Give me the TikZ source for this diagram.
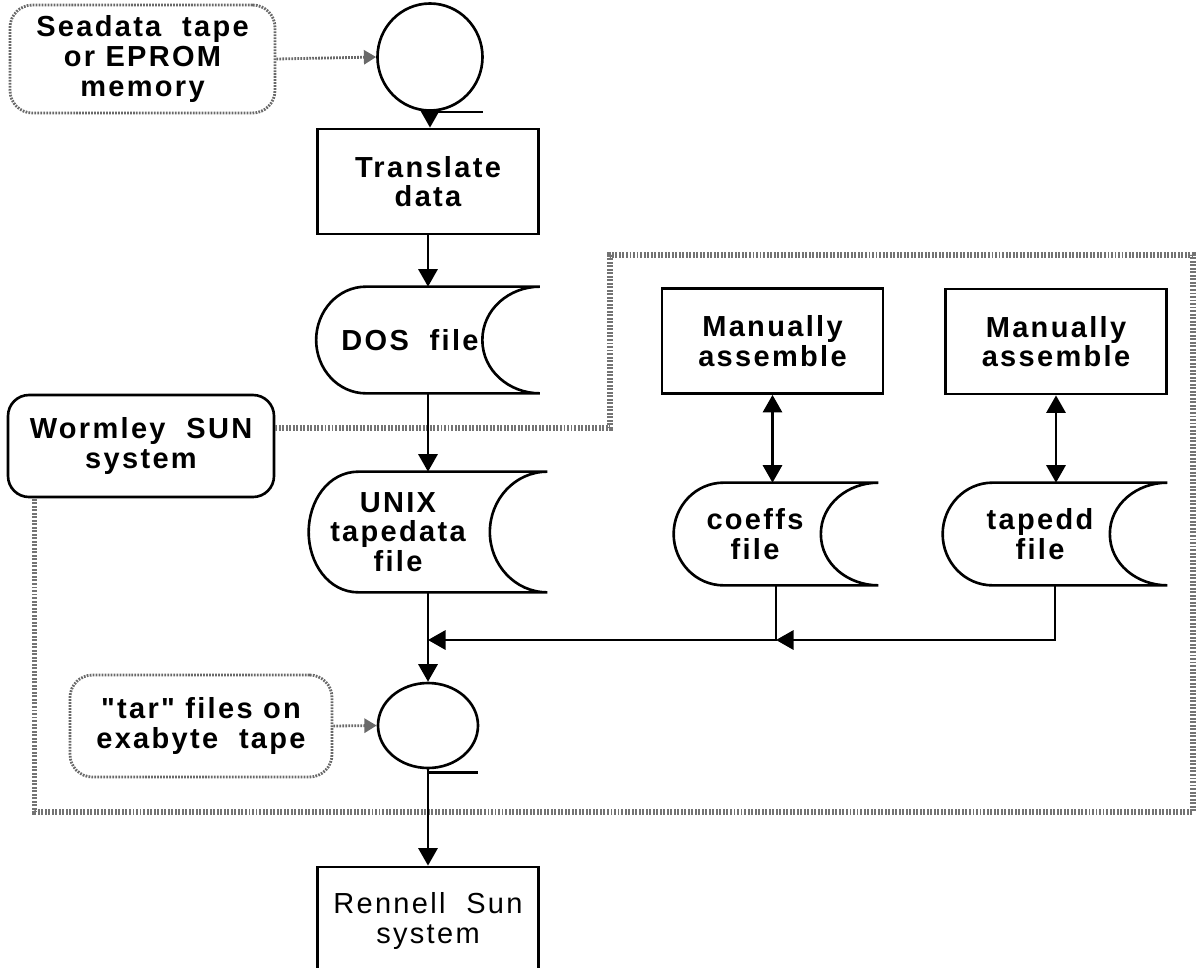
\documentclass[tikz,border=0pt]{standalone}
\usepackage{fontspec}
\setmainfont{Liberation Sans}[LetterSpace=8, Ligatures=TeXOff]
\usepackage{tikz}
\usetikzlibrary{arrows.meta,shapes.geometric,calc}

\definecolor{dotGray}{RGB}{105,105,105}

% outline of a stored-data file symbol round a named node
\newcommand{\drawstore}[1]{%
  \draw[line width=1.5pt] (#1.north east) -- ([xshift=1cm]#1.north west)
    to[out=180,in=90] (#1.west) to[out=-90,in=180] ([xshift=1cm]#1.south west)
    -- (#1.south east) to[out=180,in=-90] ([xshift=-1.15cm]#1.east)
    to[out=90,in=180] (#1.north east);}

\begin{document}
\begin{tikzpicture}[
    txt/.style={align=center, font=\fontsize{16.5}{16.8}\selectfont\bfseries},
    proc/.style={txt, rectangle, draw, line width=1.6pt, minimum width=4.42cm,
                 minimum height=2.1cm},
    store/.style={rectangle, inner sep=0pt, minimum height=2.04cm},
    tape/.style={ellipse, draw, line width=1.5pt, inner sep=0pt},
    ext/.style={txt, rectangle, rounded corners=0.45cm, draw=dotGray,
                line width=1.6pt, dash pattern=on 1pt off 0.7pt},
    sys/.style={txt, rectangle, rounded corners=0.42cm, draw, line width=1.5pt},
    flow/.style={-{Triangle[length=10pt,width=11pt]}, line width=1.3pt},
    link/.style={-{Triangle[length=7pt,width=8pt]}, dotGray, line width=1.6pt,
                 dash pattern=on 1pt off 0.7pt},
    sysbound/.style={black!55, line width=3pt, dash pattern=on 1.1pt off 0.9pt}
  ]
  \useasboundingbox (0,0) rectangle (23.96,-19.34);

  % main column
  \node[ext, minimum width=5.3cm, minimum height=2.16cm] (sea) at (2.85,-1.18)
    {Seadata\ \ tape\\or EPROM\\memory};
  \node[tape, minimum width=2.1cm, minimum height=2.14cm] (tape1) at (8.6,-1.14) {};
  \node[proc] (trans) at (8.56,-3.63) {Translate\\data};
  \node[store, minimum width=4.46cm, minimum height=2.12cm] (dos) at (8.56,-6.8) {};
  \node[txt] (dostext) at ([xshift=-0.36cm]dos.center) {DOS\ \ file};
  \node[store, minimum width=4.76cm, minimum height=2.4cm] (unix) at (8.56,-10.64) {};
  \node[txt] (unixtext) at ([xshift=-0.6cm]unix.center) {UNIX\\tapedata\\file};
  \node[tape, minimum width=2.0cm, minimum height=1.7cm] (tape2) at (8.56,-14.51) {};
  \node[ext, minimum width=5.24cm, minimum height=2.04cm] (tar) at (4.02,-14.52)
    {"tar" files on\\exabyte\ \ tape};
  \node[proc, font=\fontsize{16.5}{16.8}\selectfont, minimum height=2.16cm] (rennell)
    at (8.56,-18.42) {Rennell\ \ Sun\\system};

  % right hand files
  \node[proc] (man1) at (15.45,-6.82) {Manually\\assemble};
  \node[proc] (man2) at (21.12,-6.83) {Manually\\assemble};
  \node[store, minimum width=4.08cm] (coeffs) at (15.52,-10.68) {};
  \node[txt] (coeffstext) at ([xshift=-0.42cm]coeffs.center) {coeffs\\file};
  \node[store, minimum width=4.48cm] (tapedd) at (21.1,-10.68) {};
  \node[txt] (tapeddtext) at ([xshift=-0.3cm]tapedd.center) {tapedd\\file};

  \node[sys, minimum width=5.32cm, minimum height=2.04cm] (wormley) at (2.82,-8.92)
    {Wormley\ \ SUN\\system};

  \drawstore{dos}
  \drawstore{unix}
  \drawstore{coeffs}
  \drawstore{tapedd}

  \draw[line width=1.5pt] (tape1.south) -- ++(1.05,0);
  \draw[line width=1.5pt] ([yshift=-0.06cm]tape2.south) -- ++(1.0,0);

  % system boundary
  \coordinate (bndA) at (12.2,-5.1);
  \coordinate (bndB) at (23.86,-16.24);
  \draw[sysbound] ([yshift=0.36cm]wormley.east) -| (bndA) -| (bndB)
    -| ([xshift=0.56cm]wormley.south west);

  \draw[link] (sea.east) -- (tape1.west);
  \draw[link] (tar.east) -- (tape2.west);

  \draw[flow] (tape1.south) -- (tape1.south |- trans.north);
  \draw[flow] (trans.south) -- (dos.north);
  \draw[flow] (dos.south) -- (unix.north);
  \draw[flow] (unix.south) -- (tape2.north);
  \draw[flow] (tape2.south) -- (rennell.north);

  \draw[{Triangle[length=10pt,width=11pt]}-{Triangle[length=10pt,width=11pt]},
        line width=1.3pt] (man1.south) -- (man1.south |- coeffs.north);
  \draw[{Triangle[length=10pt,width=11pt]}-{Triangle[length=10pt,width=11pt]},
        line width=1.3pt] (man2.south) -- (man2.south |- tapedd.north);

  \coordinate (joinU) at (unix.south |- 0,-12.8);
  \coordinate (joinC) at (coeffs.south |- 0,-12.8);
  \draw[flow] (coeffs.south) |- (joinU);
  \draw[flow] (tapedd.south) |- (joinC);
\end{tikzpicture}
\end{document}
